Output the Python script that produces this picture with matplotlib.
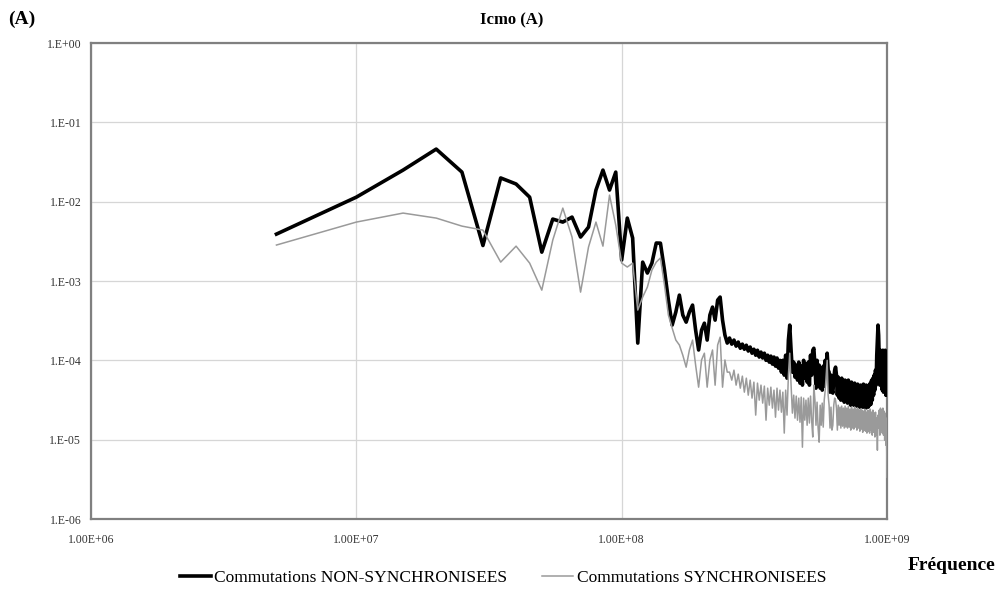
import numpy as np
import matplotlib
matplotlib.use("Agg")
import matplotlib.pyplot as plt
from matplotlib.ticker import NullLocator

plt.rcParams['font.family'] = ['Liberation Serif', 'DejaVu Serif']

# spectrum lines (MHz), one every 5 MHz
freq_mhz = [
    5, 10, 15, 20, 25, 30, 35, 40, 45, 50, 55, 60, 65, 70, 75, 80, 85, 90, 95, 100,
    105, 110, 115, 120, 125, 130, 135, 140, 145, 150, 155, 160, 165, 170, 175, 180, 185, 190, 195, 200,
    205, 210, 215, 220, 225, 230, 235, 240, 245, 250, 255, 260, 265, 270, 275, 280, 285, 290, 295, 300,
    305, 310, 315, 320, 325, 330, 335, 340, 345, 350, 355, 360, 365, 370, 375, 380, 385, 390, 395, 400,
    405, 410, 415, 420, 425, 430, 435, 440, 445, 450, 455, 460, 465, 470, 475, 480, 485, 490, 495, 500,
    505, 510, 515, 520, 525, 530, 535, 540, 545, 550, 555, 560, 565, 570, 575, 580, 585, 590, 595, 600,
    605, 610, 615, 620, 625, 630, 635, 640, 645, 650, 655, 660, 665, 670, 675, 680, 685, 690, 695, 700,
    705, 710, 715, 720, 725, 730, 735, 740, 745, 750, 755, 760, 765, 770, 775, 780, 785, 790, 795, 800,
    805, 810, 815, 820, 825, 830, 835, 840, 845, 850, 855, 860, 865, 870, 875, 880, 885, 890, 895, 900,
    905, 910, 915, 920, 925, 930, 935, 940, 945, 950, 955, 960, 965, 970, 975, 980, 985, 990, 995, 1000,
]

# Icmo (A), commutations non synchronisees
non_sync = [
    3.9e-3, 1.14e-2, 2.5e-2, 4.6e-2, 2.36e-2, 2.8e-3, 1.99e-2, 1.67e-2, 1.14e-2, 2.31e-3,
    6.03e-3, 5.53e-3, 6.39e-3, 3.58e-3, 4.78e-3, 1.40e-2, 2.50e-2, 1.40e-2, 2.36e-2, 1.84e-3,
    6.21e-3, 3.48e-3, 1.65e-4, 1.73e-3, 1.26e-3, 1.68e-3, 3.01e-3, 3.0e-3, 1.37e-3, 5.74e-4,
    2.78e-4, 4.06e-4, 6.64e-4, 3.72e-4, 3.03e-4, 4.06e-4, 4.97e-4, 2.40e-4, 1.35e-4, 2.40e-4,
    2.94e-4, 1.80e-4, 3.72e-4, 4.69e-4, 3.21e-4, 5.74e-4, 6.27e-4, 3.21e-4, 2.08e-4, 1.65e-4,
    1.91e-4, 1.60e-4, 1.80e-4, 1.51e-4, 1.70e-4, 1.42e-4, 1.60e-4, 1.38e-4, 1.55e-4, 1.31e-4,
    1.47e-4, 1.23e-4, 1.38e-4, 1.16e-4, 1.34e-4, 1.10e-4, 1.27e-4, 1.07e-4, 1.23e-4, 1.00e-4,
    1.16e-4, 9.49e-5, 1.13e-4, 8.96e-5, 1.10e-4, 8.45e-5, 1.07e-4, 7.97e-5, 1.00e-4, 7.10e-5,
    1.00e-4, 6.51e-5, 1.16e-4, 5.96e-5, 1.80e-4, 2.78e-4, 1.34e-4, 7.10e-5, 9.49e-5, 6.14e-5,
    8.70e-5, 5.63e-5, 9.49e-5, 5.16e-5, 8.45e-5, 4.87e-5, 1.00e-4, 5.96e-5, 8.96e-5, 5.31e-5,
    9.49e-5, 4.87e-5, 1.16e-4, 6.51e-5, 1.34e-4, 1.42e-4, 8.70e-5, 4.46e-5, 1.00e-4, 5.63e-5,
    8.70e-5, 4.46e-5, 7.97e-5, 4.21e-5, 8.45e-5, 4.73e-5, 1.00e-4, 7.10e-5, 1.23e-4, 7.52e-5,
    7.10e-5, 3.97e-5, 6.51e-5, 4.21e-5, 3.86e-5, 5.63e-5, 7.52e-5, 8.21e-5, 6.51e-5, 3.64e-5,
    6.14e-5, 3.34e-5, 5.63e-5, 3.15e-5, 5.96e-5, 3.44e-5, 5.31e-5, 2.97e-5, 5.63e-5, 3.15e-5,
    5.16e-5, 2.89e-5, 5.63e-5, 3.15e-5, 4.87e-5, 2.72e-5, 5.31e-5, 2.97e-5, 4.73e-5, 2.72e-5,
    5.16e-5, 2.80e-5, 4.59e-5, 2.65e-5, 5.01e-5, 2.72e-5, 4.46e-5, 2.57e-5, 4.87e-5, 2.72e-5,
    4.59e-5, 2.57e-5, 5.01e-5, 2.72e-5, 4.46e-5, 2.50e-5, 4.87e-5, 2.65e-5, 4.59e-5, 2.57e-5,
    4.87e-5, 2.72e-5, 5.16e-5, 2.80e-5, 5.63e-5, 3.15e-5, 5.96e-5, 3.64e-5, 6.51e-5, 4.21e-5,
    7.52e-5, 4.87e-5, 1.16e-4, 1.80e-4, 2.78e-4, 2.08e-4, 1.00e-4, 4.87e-5, 1.34e-4, 5.63e-5,
    1.16e-4, 4.21e-5, 1.34e-4, 3.97e-5, 1.27e-4, 4.46e-5, 1.34e-4, 3.64e-5, 1.27e-4, 3.64e-5,
]

# Icmo (A), commutations synchronisees
sync = [
    2.84e-3, 5.53e-3, 7.18e-3, 6.21e-3, 4.92e-3, 4.38e-3, 1.73e-3, 2.75e-3, 1.68e-3, 7.67e-4,
    3.28e-3, 8.30e-3, 3.58e-3, 7.24e-4, 2.68e-3, 5.53e-3, 2.75e-3, 1.21e-2, 5.07e-3, 1.68e-3,
    1.50e-3, 1.68e-3, 4.30e-4, 6.27e-4, 8.38e-4, 1.37e-3, 1.73e-3, 1.95e-3, 8.88e-4, 3.72e-4,
    2.55e-4, 1.80e-4, 1.56e-4, 1.16e-4, 8.20e-5, 1.35e-4, 1.80e-4, 8.69e-5, 4.59e-5, 1.01e-4,
    1.23e-4, 4.59e-5, 1.01e-4, 1.35e-4, 4.86e-5, 1.56e-4, 1.96e-4, 4.59e-5, 1.01e-4, 7.10e-5,
    7.10e-5, 5.63e-5, 7.52e-5, 4.87e-5, 6.70e-5, 4.46e-5, 6.32e-5, 3.97e-5, 5.96e-5, 3.64e-5,
    5.63e-5, 3.34e-5, 5.31e-5, 2.04e-5, 5.16e-5, 3.15e-5, 4.87e-5, 2.89e-5, 4.73e-5, 1.76e-5,
    4.46e-5, 2.72e-5, 4.59e-5, 2.50e-5, 4.21e-5, 1.92e-5, 4.46e-5, 2.36e-5, 4.21e-5, 2.22e-5,
    3.97e-5, 1.21e-5, 4.21e-5, 2.04e-5, 6.51e-5, 1.23e-4, 4.87e-5, 2.16e-5, 3.64e-5, 1.87e-5,
    3.54e-5, 1.76e-5, 3.34e-5, 1.66e-5, 3.44e-5, 8.04e-6, 3.34e-5, 1.76e-5, 3.15e-5, 1.52e-5,
    3.34e-5, 1.62e-5, 3.54e-5, 1.76e-5, 1.08e-5, 4.87e-5, 3.15e-5, 1.52e-5, 2.97e-5, 1.40e-5,
    9.30e-6, 2.72e-5, 1.52e-5, 2.89e-5, 1.44e-5, 3.15e-5, 4.21e-5, 6.51e-5, 1.00e-4, 3.64e-5,
    2.72e-5, 1.40e-5, 2.57e-5, 1.32e-5, 1.52e-5, 2.72e-5, 3.34e-5, 3.15e-5, 2.50e-5, 1.32e-5,
    2.72e-5, 1.52e-5, 2.57e-5, 1.40e-5, 2.65e-5, 1.48e-5, 2.50e-5, 1.40e-5, 2.65e-5, 1.44e-5,
    2.50e-5, 1.40e-5, 2.65e-5, 1.44e-5, 2.42e-5, 1.32e-5, 2.57e-5, 1.40e-5, 2.42e-5, 1.36e-5,
    2.57e-5, 1.44e-5, 2.42e-5, 1.32e-5, 2.50e-5, 1.40e-5, 2.36e-5, 1.28e-5, 2.42e-5, 1.36e-5,
    2.36e-5, 1.24e-5, 2.29e-5, 1.32e-5, 2.42e-5, 1.28e-5, 2.22e-5, 1.21e-5, 2.36e-5, 1.28e-5,
    2.29e-5, 1.21e-5, 2.42e-5, 1.32e-5, 2.22e-5, 1.14e-5, 2.36e-5, 1.24e-5, 2.16e-5, 1.08e-5,
    2.22e-5, 1.14e-5, 1.87e-5, 7.37e-6, 2.04e-5, 1.40e-5, 2.36e-5, 1.14e-5, 2.50e-5, 1.32e-5,
    2.36e-5, 1.21e-5, 2.50e-5, 1.14e-5, 2.29e-5, 9.86e-6, 2.16e-5, 8.52e-6, 1.87e-5, 3.37e-6,
]

x_ticks = [1e6, 1e7, 1e8, 1e9]
x_labels = ['1.00E+06', '1.00E+07', '1.00E+08', '1.00E+09']
y_ticks = [1e-6, 1e-5, 1e-4, 1e-3, 1e-2, 1e-1, 1e0]
y_labels = ['1.E-06', '1.E-05', '1.E-04', '1.E-03', '1.E-02', '1.E-01', '1.E+00']

freq = np.array(freq_mhz) * 1e6

fig = plt.figure(figsize=(9.98, 5.92), dpi=100)
ax = fig.add_axes([91 / 998, 1 - 519 / 592, (887 - 91) / 998, (519 - 43) / 592])

ax.plot(freq, non_sync, color='black', lw=2.6, label='Commutations NON-SYNCHRONISEES', zorder=3)
ax.plot(freq, sync, color='#9a9a9a', lw=1.1, label='Commutations SYNCHRONISEES', zorder=4)

ax.set_xscale('log')
ax.set_yscale('log')
ax.set_xlim(1e6, 1e9)
ax.set_ylim(1e-6, 1)
ax.set_xticks(x_ticks)
ax.set_xticklabels(x_labels)
ax.set_yticks(y_ticks)
ax.set_yticklabels(y_labels)
ax.xaxis.set_minor_locator(NullLocator())
ax.yaxis.set_minor_locator(NullLocator())
ax.tick_params(axis='both', length=0, labelsize=8.5, colors='#333333')
ax.tick_params(axis='x', pad=11)
ax.tick_params(axis='y', pad=7)
ax.grid(True, which='major', color='#d6d6d6', lw=0.9)
for sp in ax.spines.values():
    sp.set_color('#808080')
    sp.set_linewidth(1.6)

fig.text(512 / 998, 1 - 20 / 592, 'Icmo (A)', ha='center', va='center',
         fontweight='bold', fontsize=12)
fig.text(8 / 998, 1 - 19 / 592, '(A)', ha='left', va='center',
         fontweight='bold', fontsize=14)
fig.text(995 / 998, 1 - 566 / 592, 'Fréquence', ha='right', va='center',
         fontweight='bold', fontsize=14)

fig.legend(loc='center', bbox_to_anchor=(503 / 998, 1 - 578 / 592), ncol=2,
           frameon=False, fontsize=12.5, handlelength=1.8, handletextpad=0.2,
           columnspacing=2.0)

fig.savefig('out.png', dpi=100)
